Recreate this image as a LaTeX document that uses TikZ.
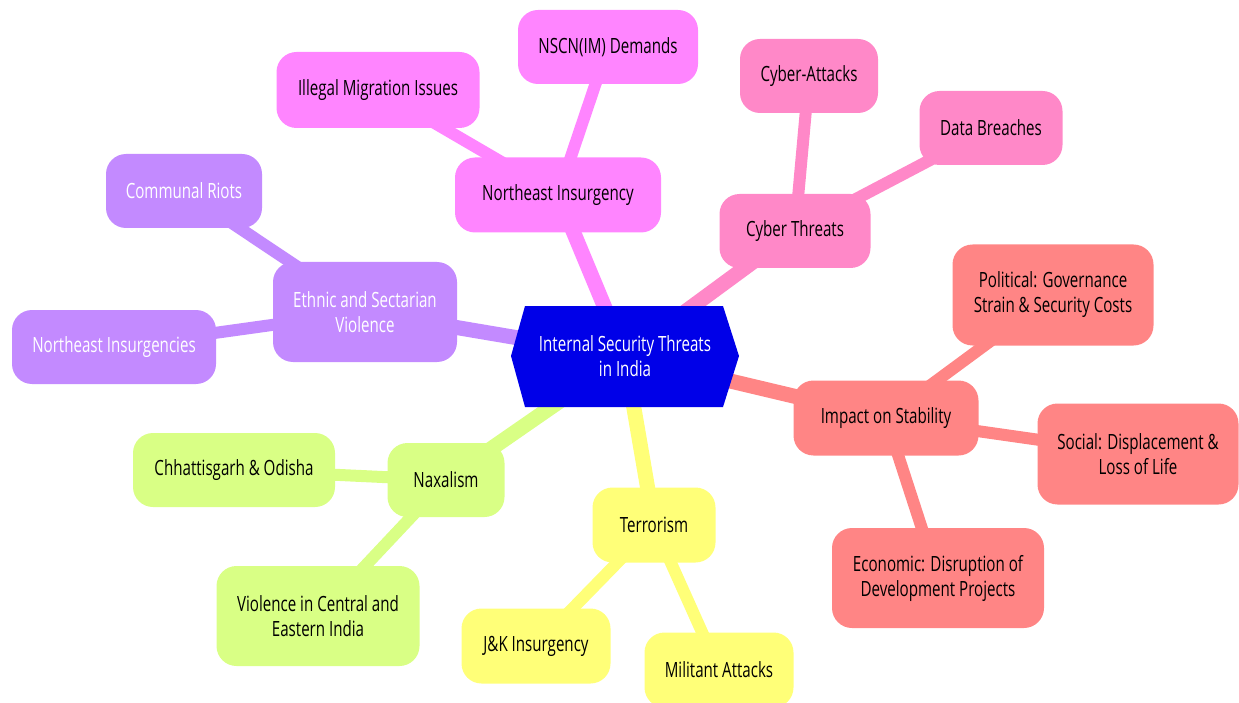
\documentclass[tikz,border=0pt]{standalone}
\usepackage{fontspec}
\setmainfont{Open Sans}[FakeStretch=0.72]
\pgfdeclarelayer{edges}
\pgfdeclarelayer{bg}
\pgfsetlayers{edges,bg,main}
\definecolor{rootc}{HTML}{0000E8}
\definecolor{purp}{HTML}{C38AFF}
\definecolor{mag}{HTML}{FF85FF}
\definecolor{pinkc}{HTML}{FF88C8}
\definecolor{salm}{HTML}{FF8585}
\definecolor{grn}{HTML}{D9FF85}
\definecolor{yel}{HTML}{FFFF78}
\tikzset{
  mm/.style={rounded corners=20pt, inner sep=0pt, align=center, font=\fontsize{21}{25}\selectfont},
  e1/.style={line width=15pt},
  e2/.style={line width=12pt},
}
\begin{document}
\begin{tikzpicture}[x=1pt,y=-1pt]
\useasboundingbox (0,0) rectangle (1239,703);
% root
\node[inner sep=0pt, align=center, text=white, font=\fontsize{21}{25}\selectfont] (root) at (625,356) {Internal Security Threats\\in India};
% ethnic
\node[mm, fill=purp, text=white, minimum width=184pt, minimum height=100pt] (eth) at (365,312) {Ethnic and Sectarian\\Violence};
\node[mm, fill=purp, text=white, minimum width=156pt, minimum height=74pt] (comm) at (184,191) {Communal Riots};
\node[mm, fill=purp, text=white, minimum width=204pt, minimum height=74pt] (neins) at (114,347) {Northeast Insurgencies};
% northeast
\node[mm, fill=mag, minimum width=206pt, minimum height=75pt] (nei) at (558,195) {Northeast Insurgency};
\node[mm, fill=mag, minimum width=203pt, minimum height=76pt] (ill) at (378,90) {Illegal Migration Issues};
\node[mm, fill=mag, minimum width=180pt, minimum height=74pt] (nscn) at (608,47) {NSCN(IM) Demands};
% cyber
\node[mm, fill=pinkc, minimum width=151pt, minimum height=74pt] (cyb) at (795,231) {Cyber Threats};
\node[mm, fill=pinkc, minimum width=138pt, minimum height=74pt] (cata) at (809,76) {Cyber-Attacks};
\node[mm, fill=pinkc, minimum width=143pt, minimum height=74pt] (data) at (991,128) {Data Breaches};
% impact
\node[mm, fill=salm, minimum width=185pt, minimum height=75pt] (imp) at (886,418) {Impact on Stability};
\node[mm, fill=salm, minimum width=201pt, minimum height=101pt] (pol) at (1053,295) {Political: Governance\\Strain \& Security Costs};
\node[mm, fill=salm, minimum width=201pt, minimum height=101pt] (soc) at (1138,454) {Social: Displacement \&\\Loss of Life};
\node[mm, fill=salm, minimum width=212pt, minimum height=100pt] (eco) at (938,578) {Economic: Disruption of\\Development Projects};
% naxalism
\node[mm, fill=grn, minimum width=117pt, minimum height=74pt] (nax) at (446,480) {Naxalism};
\node[mm, fill=grn, minimum width=202pt, minimum height=74pt] (chh) at (234,470) {Chhattisgarh \& Odisha};
\node[mm, fill=grn, minimum width=203pt, minimum height=100pt] (vio) at (318,616) {Violence in Central and\\Eastern India};
% terrorism
\node[mm, fill=yel, minimum width=123pt, minimum height=75pt] (ter) at (654,525) {Terrorism};
\node[mm, fill=yel, minimum width=149pt, minimum height=75pt] (jk) at (536,646) {J\&K Insurgency};
\node[mm, fill=yel, minimum width=149pt, minimum height=75pt] (mil) at (719,670) {Militant Attacks};
\begin{pgfonlayer}{bg}
\fill[rootc] ([xshift=-114pt]root.center) -- ([xshift=-100pt,yshift=50pt]root.center) -- ([xshift=98pt,yshift=50pt]root.center) -- ([xshift=114pt]root.center) -- ([xshift=98pt,yshift=-51pt]root.center) -- ([xshift=-100pt,yshift=-51pt]root.center) -- cycle;
\end{pgfonlayer}
\begin{pgfonlayer}{edges}
\draw[e1, purp] (root.center) -- (eth.center);
\draw[e1, mag] (root.center) -- (nei.center);
\draw[e1, pinkc] (root.center) -- (cyb.center);
\draw[e1, salm] (root.center) -- (imp.center);
\draw[e1, grn] (root.center) -- (nax.center);
\draw[e1, yel] (root.center) -- (ter.center);
\draw[e2, purp] (eth.center) -- (comm.center);
\draw[e2, purp] (eth.center) -- (neins.center);
\draw[e2, mag] (nei.center) -- (ill.center);
\draw[e2, mag] (nei.center) -- (nscn.center);
\draw[e2, pinkc] (cyb.center) -- (cata.center);
\draw[e2, pinkc] (cyb.center) -- (data.center);
\draw[e2, salm] (imp.center) -- (pol.center);
\draw[e2, salm] (imp.center) -- (soc.center);
\draw[e2, salm] (imp.center) -- (eco.center);
\draw[e2, grn] (nax.center) -- (chh.center);
\draw[e2, grn] (nax.center) -- (vio.center);
\draw[e2, yel] (ter.center) -- (jk.center);
\draw[e2, yel] (ter.center) -- (mil.center);
\end{pgfonlayer}
\end{tikzpicture}
\end{document}
